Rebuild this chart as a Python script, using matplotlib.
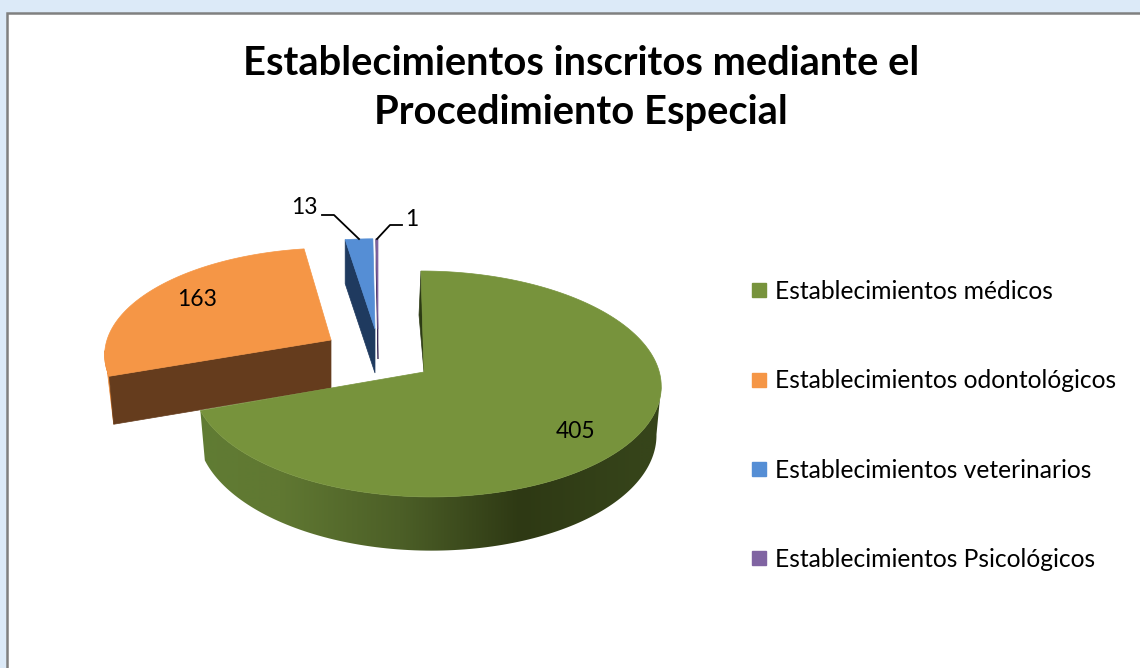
import numpy as np
from matplotlib import pyplot as plt
from matplotlib.lines import Line2D
from matplotlib.patches import Polygon, Rectangle

# Data
categorias = ['Establecimientos médicos', 'Establecimientos odontológicos',
              'Establecimientos veterinarios', 'Establecimientos Psicológicos']
valores = [405, 163, 13, 1]
titulo = 'Establecimientos inscritos mediante el\nProcedimiento Especial'

# Colours
color_top = ['#77933c', '#f59646', '#558ed5', '#8064a2']
color_wall = ['#2c3a14', '#653c1d', '#1f3a5f', '#3d2c57']
color_borde = ['#77933c', '#e8893a', '#1f3a5f', '#3d2c57']

# 3D look of each slice: vertex x, vertex y, Rx, Ry, perspective, depth, depth perspective,
# shrink of the base, x shift of the rim, x shift of the rim along depth
vista = [(424, 372, 233, 111.7, 0.106, 48, 0.106, 0.98, 2.3, -5.3),
         (331, 340, 224, 104.0, 0.130, 48, 0.0, 0.98, 0, 3),
         (375, 329, 240, 109.5, 0.214, 44, 0.0, 1.0, 0, 0),
         (378, 329, 220, 109.5, 0.214, 30, 0.0, 1.0, 0, 0)]

# Shading of the green outer wall along x
grad_x = [196, 280, 400, 520, 640, 665]
grad_r = [0x60, 0x60, 0x4c, 0x2e, 0x36, 0x36]
grad_g = [0x7c, 0x78, 0x5f, 0x39, 0x44, 0x44]
grad_b = [0x34, 0x32, 0x27, 0x14, 0x1a, 0x1a]


def rim(ang, v_):
    # angle clockwise from 12 o'clock -> pixel on the top face rim
    cx, cy, rx, ry, k, d, dk, sh, sx0, sxv = v_
    u, v = np.sin(ang), np.cos(ang)
    s = 1 / (1 + k * v)
    return cx + rx * u * s + sx0 + sxv * v, cy - ry * v * s


def base(ang, v_):
    # same point on the lower edge of the slice
    cx, cy, rx, ry, k, d, dk, sh, sx0, sxv = v_
    x, y = rim(ang, v_)
    return cx + (x - cx) * sh, y + d / (1 + dk * np.cos(ang))


fig = plt.figure(figsize=(11.4, 6.68), dpi=100, facecolor='#dceaf8')
ax = fig.add_axes([0, 0, 1, 1])
ax.set_xlim(0, 1140)
ax.set_ylim(668, 0)
ax.axis('off')

ax.add_patch(Rectangle((7, 13), 1140, 700, facecolor='white', edgecolor='#808080', lw=1.8))

# Slice angles from the values
total = sum(valores)
fin = np.cumsum(valores) / total * 2 * np.pi
ini = np.concatenate(([0], fin[:-1]))

# Orange, blue, purple first, green on top of them
for i in [1, 2, 3, 0]:
    v_ = vista[i]
    cx, cy = v_[0], v_[1]
    angs = np.linspace(ini[i], fin[i], 200)

    # outer wall, only the part that faces the viewer
    vis = angs[np.cos(angs) <= -0.1]
    if len(vis) > 1:
        if i == 0:
            # green wall has a shading along x, painted through the wall shape
            pared = [rim(a, v_) for a in vis] + [base(a, v_) for a in vis[::-1]]
            xs = np.linspace(grad_x[0], grad_x[-1], 470)
            tira = np.dstack([np.interp(xs, grad_x, grad_r), np.interp(xs, grad_x, grad_g),
                              np.interp(xs, grad_x, grad_b)]) / 255
            forma = Polygon(pared, closed=True, facecolor='none', edgecolor='none', transform=ax.transData)
            ax.add_patch(forma)
            img = ax.imshow(tira, extent=(grad_x[0], grad_x[-1], 560, 380), aspect='auto', zorder=1.01)
            img.set_clip_path(forma)
            ax.set_xlim(0, 1140)
            ax.set_ylim(668, 0)
        else:
            # orange: thin sliver left of the brown wall
            pared = [rim(a, v_) for a in vis] + [base(ini[i], v_)]
            ax.add_patch(Polygon(pared, closed=True, facecolor=color_borde[i],
                                 edgecolor=color_borde[i], lw=0.5, zorder=1))

    # cut wall of the slice
    xr, yr = rim(ini[i], v_)
    xb, yb = base(ini[i], v_)
    if i == 0:
        # green: only a thin dark strip next to its straight back edge
        xr, yr = rim(0.0, v_)
        ax.add_patch(Polygon([(xr, yr), (xr - 2, yr + 44), (cx, cy)], closed=True,
                             facecolor=color_wall[0], edgecolor=color_wall[0], lw=0.5, zorder=1.02))
    else:
        ax.add_patch(Polygon([(xr, yr), (xb, yb), (cx, cy + v_[5]), (cx, cy)], closed=True,
                             facecolor=color_wall[i], edgecolor=color_wall[i], lw=0.5, zorder=1))

    # top face
    pts = [(cx, cy)] + [rim(a, v_) for a in angs]
    ax.add_patch(Polygon(pts, closed=True, facecolor=color_top[i], edgecolor=color_top[i], lw=0.5,
                         zorder=1.03 if i == 0 else 1))

fuente = 'Lato'

# Data labels
ax.text(576, 431, str(valores[0]), ha='center', va='center', family=fuente, fontsize=16.5, color='black', zorder=3)
ax.text(197, 300, str(valores[1]), ha='center', va='center', family=fuente, fontsize=16.5, color='black', zorder=3)
ax.text(304, 208, str(valores[2]), ha='center', va='center', family=fuente, fontsize=16.5, color='black', zorder=3)
ax.text(412, 220, str(valores[3]), ha='center', va='center', family=fuente, fontsize=16.5, color='black', zorder=3)

# Leader lines
ax.plot([322, 334, 359], [215, 215, 239], color='black', lw=1.3, zorder=3)
ax.plot([402, 390, 377], [225, 225, 239], color='black', lw=1.3, zorder=3)

# Title
ax.text(581, 88, titulo, ha='center', va='center', family=fuente, fontweight='bold',
        fontsize=28.7, linespacing=1.4, color='black')

# Legend
marcas = [Line2D([], [], linestyle='none', marker='s', markersize=9.6, color=c) for c in color_top]
ax.legend(marcas, categorias, loc='center left', bbox_to_anchor=(746.7, 425.5), bbox_transform=ax.transData,
          frameon=False, prop={'family': fuente, 'size': 17.75}, labelspacing=2.69,
          handlelength=1.0, handletextpad=0.15, borderpad=0, borderaxespad=0)

plt.savefig('out.png', dpi=100, facecolor=fig.get_facecolor())
